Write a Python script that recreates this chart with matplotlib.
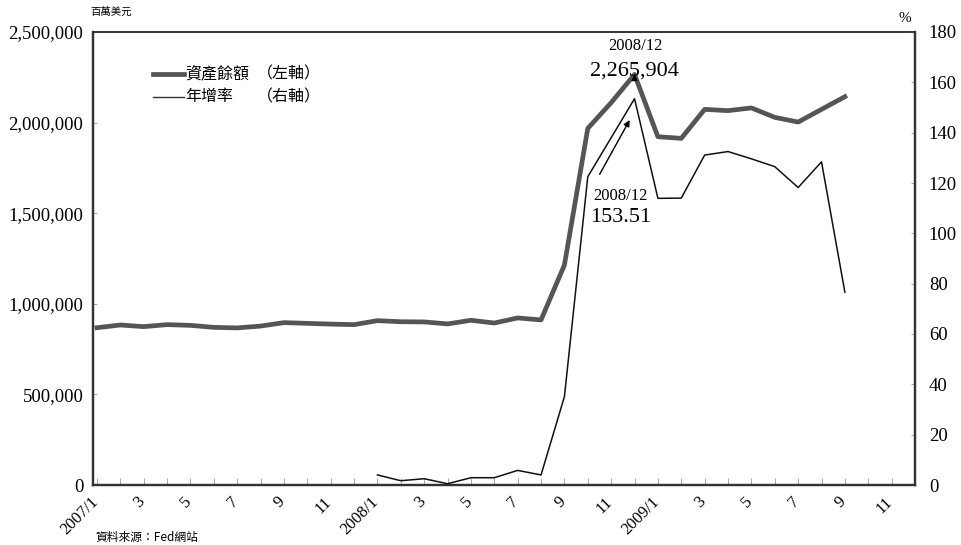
import numpy as np
import matplotlib
matplotlib.use("Agg")
import matplotlib.pyplot as plt
import matplotlib.transforms as mtransforms

plt.rcParams['font.family'] = ['Liberation Serif', 'Noto Sans CJK TC']

# monthly series, 2007/1 .. 2009/9 (asset balance) and 2008/1 .. 2009/9 (YoY growth)
months = ['2007/1', '3', '5', '7', '9', '11',
          '2008/1', '3', '5', '7', '9', '11',
          '2009/1', '3', '5', '7', '9', '11']
assets = [868000, 883000, 874000, 885000, 881000, 870000, 867000, 877000,
          896000, 892000, 888000, 885000,
          907000, 901000, 900000, 889000, 909000, 894000, 922000, 911000,
          1214000, 1968000, 2110000, 2265904,
          1922000, 1913000, 2073000, 2066000, 2081000, 2029000, 2003000,
          2073000, 2143000]
growth = [4.0, 1.7, 2.5, 0.5, 2.9, 2.9, 5.8, 4.0, 35.1, 122.5, 138.0, 153.51,
          113.9, 114.0, 131.1, 132.5, 129.6, 126.5, 118.2, 128.4, 76.6]
growth_start = 12  # growth series begins in 2008/1

x_assets = np.arange(len(assets))
x_growth = np.arange(growth_start, growth_start + len(growth))

fig = plt.figure(figsize=(9.62, 5.45), dpi=100)
ax = fig.add_axes([93 / 962, 60 / 545, 822 / 962, 453 / 545])
ax2 = ax.twinx()

line1, = ax.plot(x_assets, assets, color='#555555', lw=3.4,
                 solid_joinstyle='round', zorder=3)
line2, = ax2.plot(x_growth, growth, color='#111111', lw=1.1, zorder=3)

ax.set_xlim(-0.17, 35.0)
ax.set_ylim(0, 2500000)
ax2.set_ylim(0, 180)

ax.set_yticks(np.arange(0, 2500001, 500000))
ax.set_yticklabels(['{:,}'.format(v) for v in range(0, 2500001, 500000)])
ax2.set_yticks(np.arange(0, 181, 20))

# one tick per month, labels on odd months placed by hand (slanted)
ax.set_xticks(np.arange(0, 36))
ax.set_xticklabels([])
xlab_trans = (mtransforms.blended_transform_factory(ax.transData, ax.transAxes)
              + mtransforms.ScaledTranslation(-7 / 100, -9 / 100,
                                              fig.dpi_scale_trans))
for i, lab in enumerate(months):
    ax.text(2 * i, 0, lab, transform=xlab_trans, rotation=45, ha='right',
            va='top', rotation_mode='anchor', fontsize=12, clip_on=False)

ax.tick_params(axis='x', direction='in', length=5, width=0.6, color='#999999')
ax.tick_params(axis='y', direction='in', length=3, width=0.6, color='#999999',
               labelsize=13.5, pad=7)
ax2.tick_params(axis='y', direction='in', length=3, width=0.6, color='#999999',
                labelsize=13.5, pad=10)
for a in (ax, ax2):
    for name, sp in a.spines.items():
        sp.set_color('#333333')
        sp.set_linewidth(1.6 if name != 'top' else 1.2)

# units
fig.text(90 / 962, 1 - 12 / 545, '百萬美元', fontsize=7.5, va='center',
         ha='left', family=['Noto Sans CJK TC'])
fig.text(905 / 962, 1 - 18 / 545, '%', fontsize=11, va='center', ha='center')

# peak labels
ax.annotate('', xy=(23, assets[23]), xytext=(23, assets[23] - 1),
            arrowprops=dict(arrowstyle='-|>', color='black', lw=0.8,
                            mutation_scale=9))
ax.text(23.05, 2425000, '2008/12', ha='center', va='center', fontsize=12)
ax.text(23.0, 2285000, '{:,}'.format(assets[23]), ha='center', va='center',
        fontsize=16)

ax2.annotate('', xy=(22.85, 146), xytext=(21.45, 122.5),
             arrowprops=dict(arrowstyle='-|>', color='black', lw=1.0,
                             mutation_scale=9))
ax2.text(22.4, 114.8, '2008/12', ha='center', va='center', fontsize=12)
ax2.text(22.4, 106.3, '{:.2f}'.format(growth[11]), ha='center', va='center',
         fontsize=16)

# legend drawn by hand
fx = lambda px: px / 962
fy = lambda py: 1 - py / 545
fig.lines.append(plt.Line2D([fx(153), fx(184)], [fy(74), fy(74)],
                            transform=fig.transFigure, color='#555555', lw=3.4))
fig.lines.append(plt.Line2D([fx(153), fx(184)], [fy(97), fy(97)],
                            transform=fig.transFigure, color='#333333', lw=1.0))
leg_font = dict(fontsize=11.5, va='center', ha='left',
                family=['Noto Sans CJK TC'])
fig.text(fx(185), fy(74), '資產餘額', **leg_font)
fig.text(fx(185), fy(97), '年增率', **leg_font)
fig.text(fx(257), fy(74), '（左軸）', **leg_font)
fig.text(fx(257), fy(97), '（右軸）', **leg_font)

# source note at the bottom edge
fig.text(fx(95), fy(544), '資料來源：Fed網站', fontsize=8.5, va='bottom',
         ha='left', family=['Noto Sans CJK TC'])

fig.savefig('out.png', dpi=100)
